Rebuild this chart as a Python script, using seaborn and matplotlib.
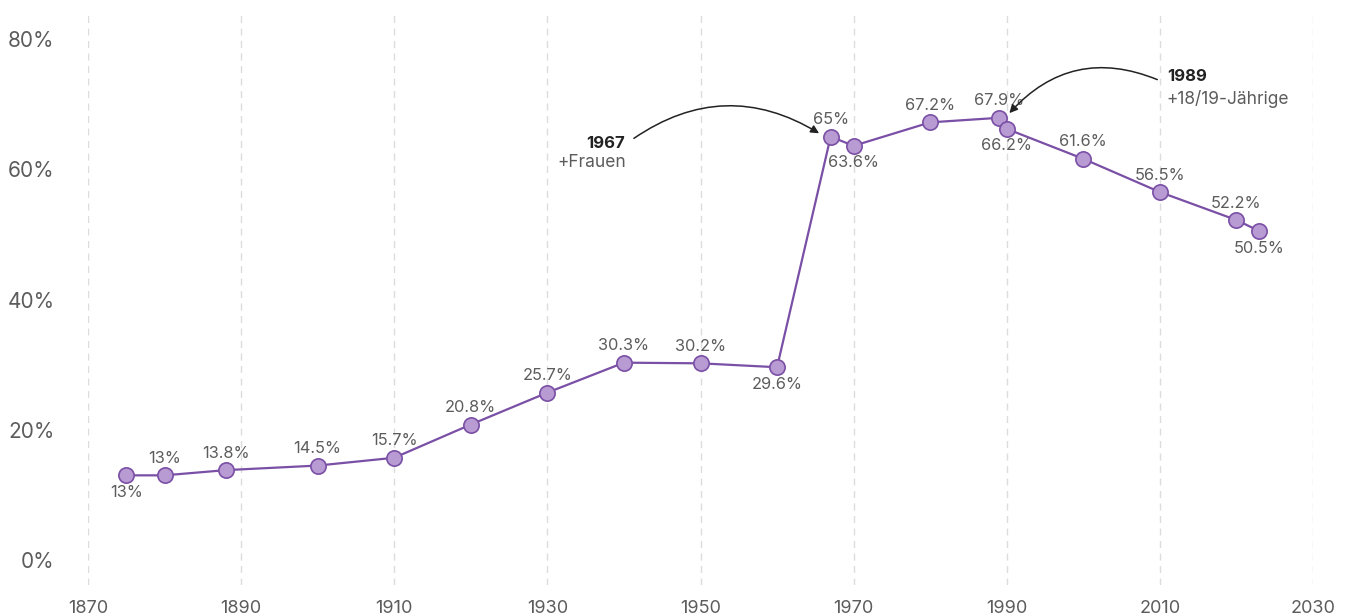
import matplotlib
matplotlib.use("Agg")
import matplotlib.pyplot as plt
from matplotlib.patches import FancyArrowPatch
import seaborn as sns
import pandas as pd

# Voter turnout share by election year
years = [1875, 1880, 1888, 1900, 1910, 1920, 1930, 1940, 1950, 1960,
         1967, 1970, 1980, 1989, 1990, 2000, 2010, 2020, 2023]
values = [13.0, 13.0, 13.8, 14.5, 15.7, 20.8, 25.7, 30.3, 30.2, 29.6,
          65.0, 63.6, 67.2, 67.9, 66.2, 61.6, 56.5, 52.2, 50.5]
labels = ["13%", "13%", "13.8%", "14.5%", "15.7%", "20.8%", "25.7%", "30.3%",
          "30.2%", "29.6%", "65%", "63.6%", "67.2%", "67.9%", "66.2%",
          "61.6%", "56.5%", "52.2%", "50.5%"]
below = {1875, 1960, 1970, 1990, 2023}

x_ticks = [1870, 1890, 1910, 1930, 1950, 1970, 1990, 2010, 2030]
y_ticks = [0, 20, 40, 60, 80]
y_tick_labels = ["0%", "20%", "40%", "60%", "80%"]

df = pd.DataFrame({"year": years, "value": values})

sns.set_theme(style="white")
plt.rcParams["font.family"] = ["Inter", "DejaVu Sans"]

W, H = 1348, 616
fig = plt.figure(figsize=(W / 100, H / 100), dpi=100)
ax = fig.add_axes([88 / W, (H - 585) / H, (1313 - 88) / W, (585 - 15) / H])

line_c = "#7a4fa6"
face_c = "#b99bd3"
text_c = "#5c5c5c"

sns.lineplot(data=df, x="year", y="value", ax=ax, color=line_c, linewidth=1.6,
             marker="o", markersize=11, markerfacecolor=face_c,
             markeredgecolor=line_c, markeredgewidth=1.2, zorder=3)

px_per_unit = (560 - 39) / 80.0
ax.set_xlim(1870, 2030)
ax.set_ylim(-(585 - 560) / px_per_unit, 80 + (39 - 15) / px_per_unit)

for yr, v, lab in zip(years, values, labels):
    dy = -17 if yr in below else 17
    ax.annotate(lab, (yr, v), xytext=(0, dy * 0.72), textcoords="offset points",
                ha="center", va="center", fontsize=11.8, color=text_c, zorder=4)

ax.set_xticks(x_ticks)
ax.set_xticklabels([str(t) for t in x_ticks])
ax.set_yticks(y_ticks)
ax.set_yticklabels(y_tick_labels)
ax.tick_params(axis="x", length=0, pad=11, labelsize=13, labelcolor=text_c)
ax.tick_params(axis="y", length=0, pad=24, labelsize=15, labelcolor=text_c)
ax.set_xlabel("")
ax.set_ylabel("")

ax.grid(False)
for t in x_ticks:
    ax.axvline(t, color="#dcdcdc", linewidth=1, linestyle=(0, (5, 4)), zorder=0)

for s in ax.spines.values():
    s.set_visible(False)

# Annotations for suffrage extensions
ax.text(1940.1, 64.0, "1967", ha="right", va="center", fontsize=12,
        fontweight="bold", color="#222222")
ax.text(1940.3, 61.0, "+Frauen", ha="right", va="center", fontsize=12.5, color=text_c)
ax.add_patch(FancyArrowPatch((1941.0, 64.5), (1965.8, 65.3),
                             connectionstyle="arc3,rad=-0.33", arrowstyle="-|>",
                             mutation_scale=12, color="#222222", linewidth=1.1,
                             zorder=5))

ax.text(2010.9, 74.2, "1989", ha="left", va="center", fontsize=12,
        fontweight="bold", color="#222222")
ax.text(2010.9, 70.8, "+18/19-Jährige", ha="left", va="center", fontsize=12.5,
        color=text_c)
ax.add_patch(FancyArrowPatch((2010.0, 73.6), (1990.1, 68.3),
                             connectionstyle="arc3,rad=0.36", arrowstyle="-|>",
                             mutation_scale=12, color="#222222", linewidth=1.1,
                             zorder=5))

fig.savefig("out.png", dpi=100, facecolor="white")
